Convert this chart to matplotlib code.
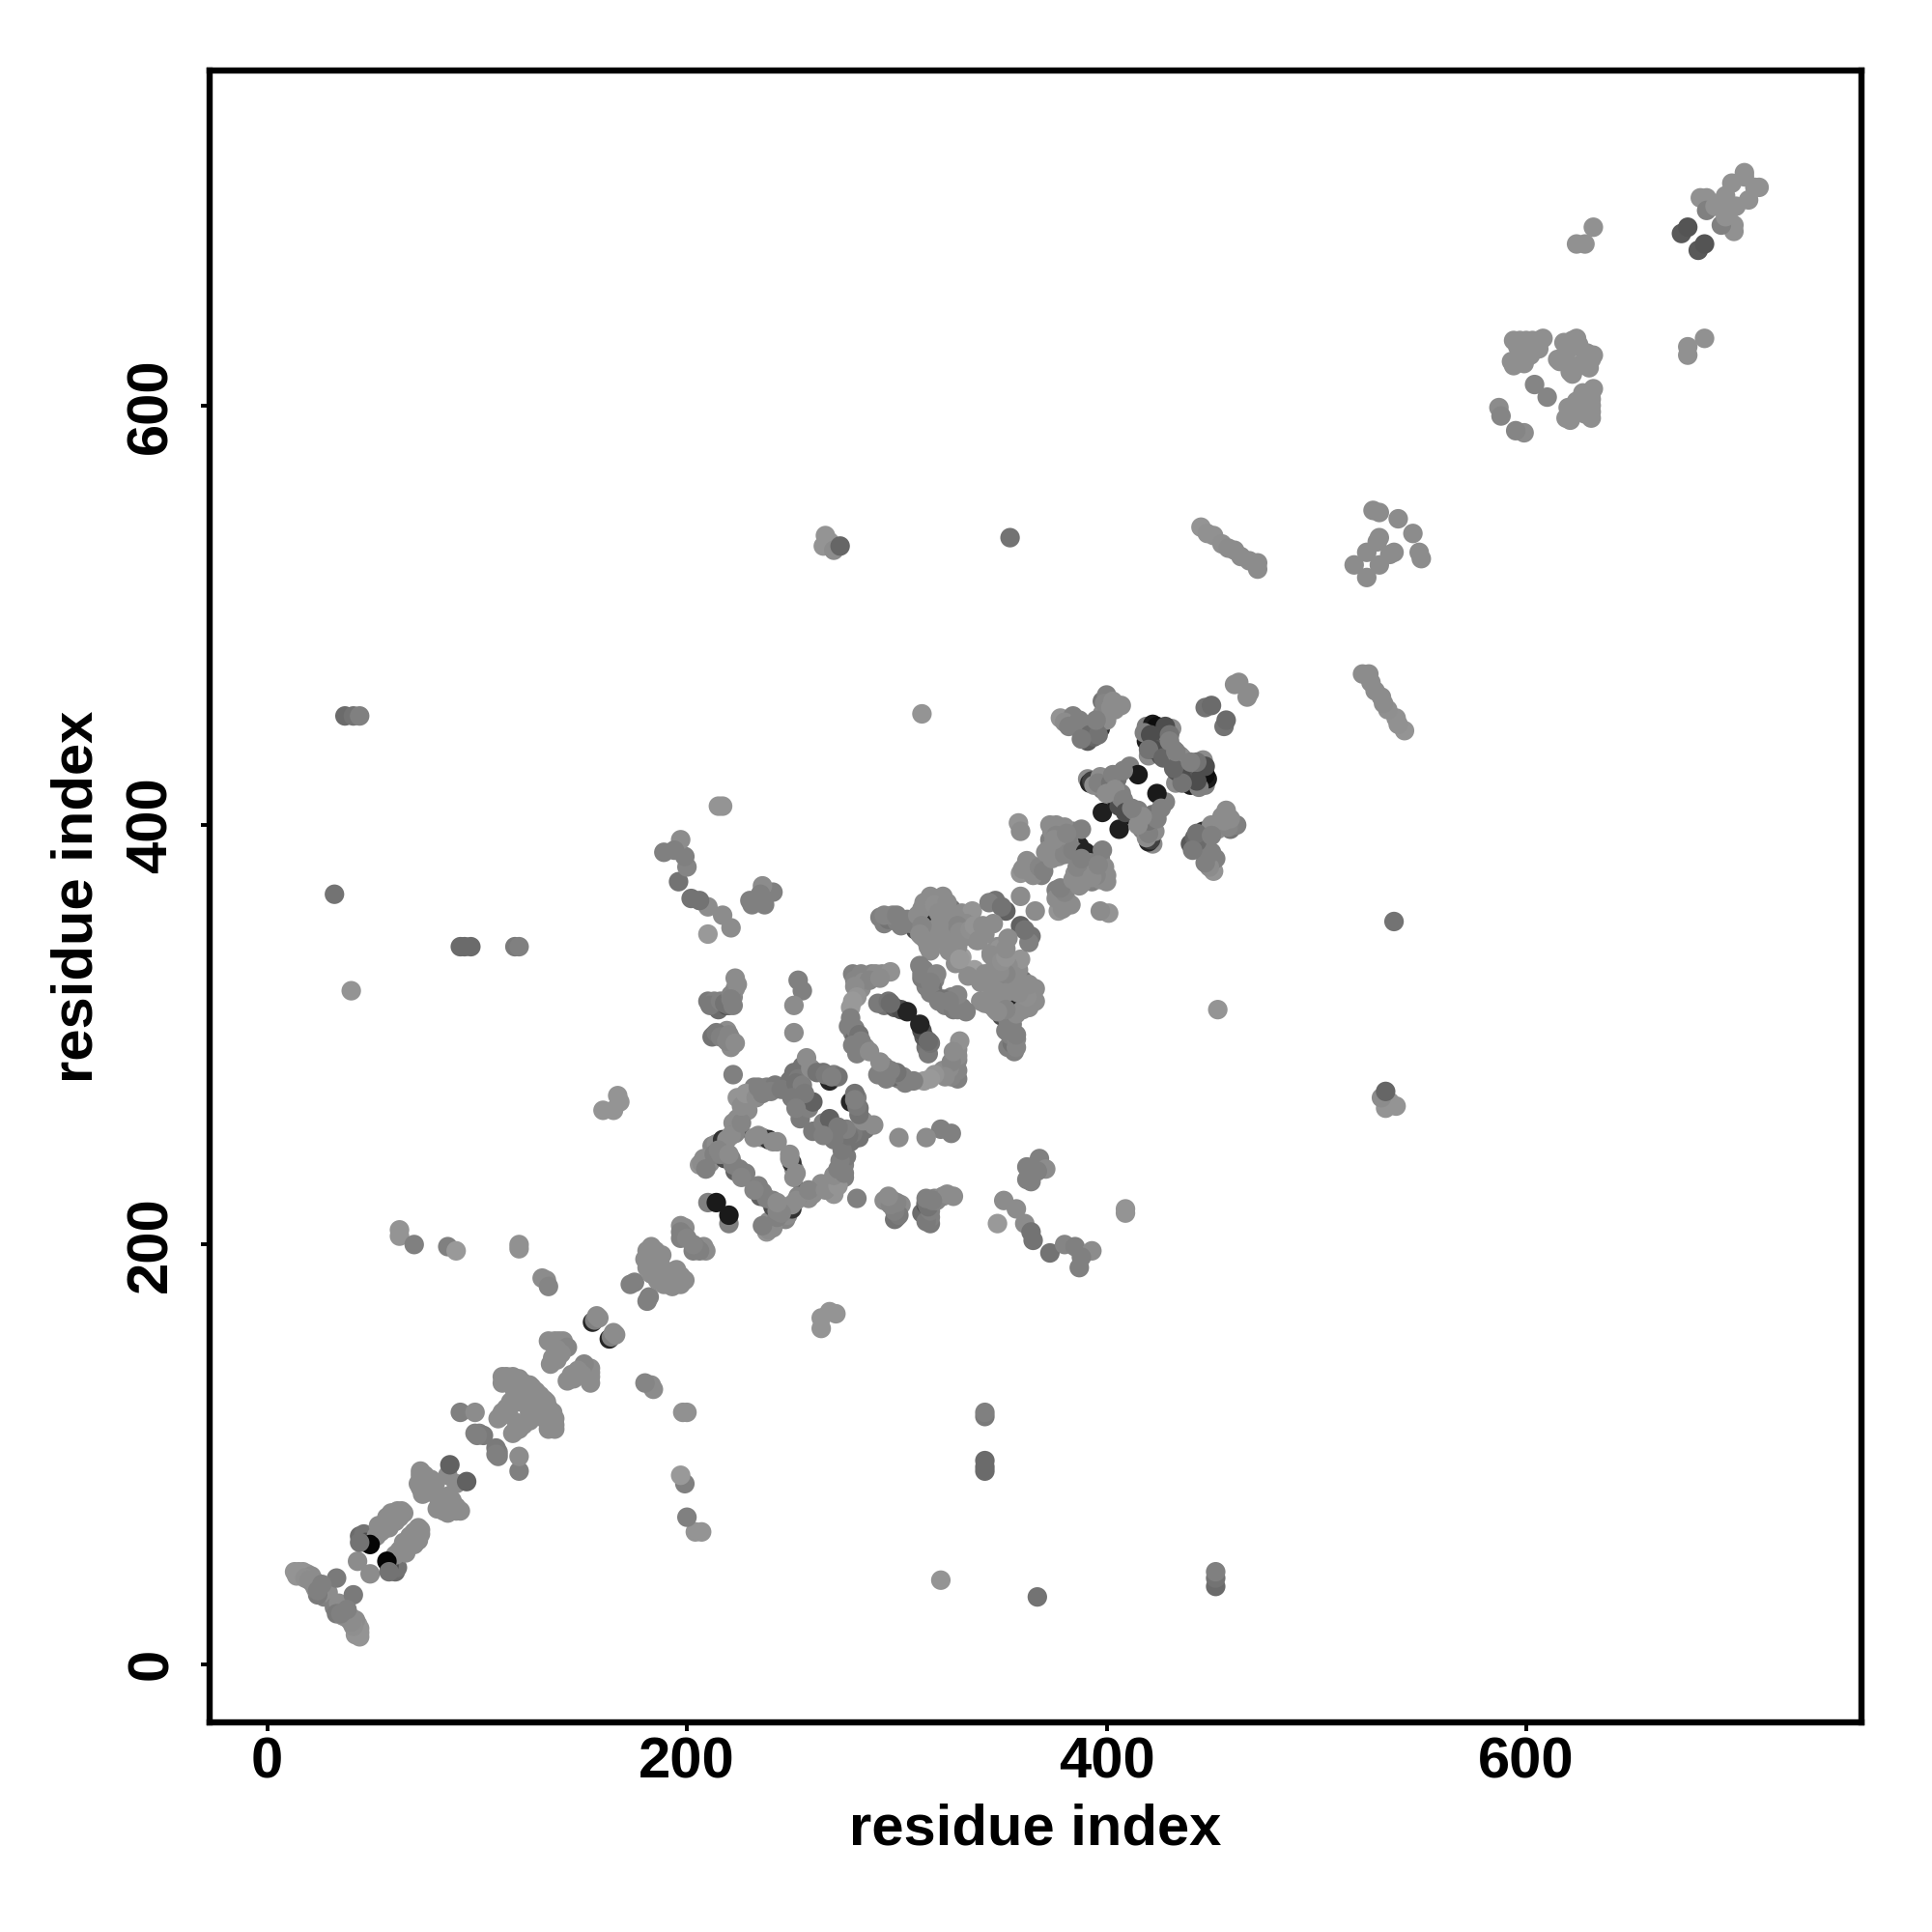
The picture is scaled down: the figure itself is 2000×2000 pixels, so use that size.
import numpy as np
import matplotlib
matplotlib.use("Agg")
import matplotlib.pyplot as plt

# contact pairs (i < j), the map is symmetric so each one is drawn twice
res_i = [
    13, 15, 17, 19, 21, 22, 23, 24, 25, 25, 26, 27, 29, 33, 24,
    43, 44, 45, 46, 47, 47, 52, 54, 56, 58, 60, 62, 64, 65, 60, 58, 49,
    73, 73, 74, 72, 75, 77, 74, 76, 79, 86, 87,
    92, 99, 99, 101, 103, 100,
    112, 114, 117, 120, 122, 125, 118, 120, 116, 114, 111, 113, 110, 126, 128,
    134, 137, 139, 141, 143, 138, 140, 136, 135, 138,
    63, 63, 70, 86, 90, 120, 120, 131, 133, 134,
    155, 156, 157, 158,
    173, 175, 181, 183, 185, 180, 183, 185, 188, 187, 181, 183, 186,
    197, 199, 197, 199, 197, 200,
    210, 214,
    160, 165, 168, 167,
    206, 207, 211, 212, 214, 217, 219, 222, 225, 223, 229, 229, 224, 232, 238, 242, 222,
    249, 250, 252, 253, 254, 255, 257, 258, 260, 265, 268, 270, 272,
    232, 236, 239, 243, 218, 221, 223, 228,
    210, 213, 215, 219, 220, 222, 223, 223, 213, 212, 219, 221, 221,
    253, 255, 251, 251,
    279, 281, 283, 285, 288, 290, 293, 297, 283, 278, 277, 279, 280, 285, 281,
    294, 299, 302, 305,
    313, 318, 314, 312, 316, 317, 312,
    294, 292, 296, 300, 305, 309, 314, 316, 322, 312, 326, 331, 336, 315, 318,
    322, 327, 331, 328, 325, 333, 341, 338, 347, 352, 344, 350, 345, 348, 336,
    359, 358, 359,
    361, 359, 364, 366, 369, 373, 376, 378, 384, 386, 387, 373, 377, 372, 376, 379, 382,
    378, 384, 385, 391, 394, 397, 400, 394, 398, 400, 400, 407,
    391, 392, 393, 397, 398, 402, 405, 407, 411, 415, 405, 398, 406, 407,
    419, 422, 424, 419, 420, 426, 425, 431, 428, 429, 432,
    447, 450, 461, 463,
    445, 448, 451, 455, 458, 461, 464, 468, 472, 472,
    527, 530, 539, 529, 530, 524, 518,
    587, 588, 604,
    594, 597, 600, 603, 606, 608, 593, 594, 599, 600, 604, 596,
    624, 622, 615, 616, 619, 622,
    632, 624, 628, 674, 677,
    683, 686, 686, 704, 698, 695, 693, 690, 704,
    37, 41, 44, 32, 40, 92, 94, 97, 118, 120,
    312, 354,
    266, 265, 268, 270, 273,
    215, 217,
    231, 237, 241, 236, 230, 235,
    221, 210, 217, 210, 206, 202,
    196, 200, 199, 197, 189, 194,
]
res_j = [
    44, 44, 44, 43, 42, 40, 39, 37, 36, 34, 33, 32, 34, 41, 33,
    49, 61, 60, 62, 60, 58, 61, 63, 66, 68, 72, 73, 73, 72, 70, 65, 57,
    92, 90, 88, 86, 85, 86, 81, 83, 84, 90, 95,
    120, 120, 110, 110, 109, 109,
    137, 137, 137, 136, 134, 133, 130, 128, 125, 122, 118, 119, 117, 132, 130,
    154, 154, 154, 154, 151, 150, 148, 146, 143, 145,
    207, 204, 200, 199, 197, 200, 198, 184, 183, 180,
    163, 164, 166, 165,
    181, 182, 197, 199, 197, 193, 192, 190, 195, 192, 189, 186, 187,
    209, 208, 206, 204, 203, 203,
    220, 220,
    264, 264, 268, 271,
    238, 239, 239, 247, 248, 250, 250, 258, 255, 253, 264, 270, 270, 275, 275, 276, 281,
    278, 279, 273, 268, 260, 285, 289, 265, 268, 282, 278, 281, 280,
    251, 251, 250, 249, 241, 241, 235, 234,
    316, 316, 312, 314, 314, 318, 322, 327, 300, 299, 302, 298, 294,
    326, 321, 314, 301,
    329, 328, 329, 328, 329, 329, 329, 330, 322, 313, 304, 301, 298, 294, 291,
    314, 313, 312, 311,
    331, 326, 323, 327, 328, 322, 329,
    353, 356, 355, 354, 355, 350, 353, 366, 366, 360, 360, 358, 359, 342, 348,
    349, 344, 337, 334, 353, 353, 349, 345, 364, 359, 363, 361, 339, 342, 330,
    366, 401, 397,
    380, 377, 381, 379, 376, 400, 400, 397, 397, 396, 390, 393, 385, 388, 390, 393, 392,
    451, 452, 448, 440, 442, 446, 450, 447, 459, 462, 456, 457,
    422, 420, 421, 423, 417, 414, 422, 415, 428, 424, 411, 406, 409, 413,
    447, 448, 447, 440, 433, 433, 440, 446, 442, 437, 436,
    456, 457, 467, 468,
    542, 539, 538, 534, 532, 531, 528, 526, 525, 522,
    550, 549, 546, 535, 537, 530, 524,
    599, 595, 610,
    631, 631, 631, 631, 631, 632, 621, 619, 620, 626, 627, 628,
    632, 631, 622, 621, 625, 628,
    685, 677, 677, 682, 685,
    699, 699, 693, 711, 706, 700, 697, 695, 709,
    452, 452, 452, 367, 321, 342, 342, 342, 342, 342,
    453, 537,
    538, 533, 535, 531, 533,
    409, 409,
    362, 362, 368, 371, 364, 367,
    351, 348, 357, 361, 364, 365,
    373, 380, 385, 393, 387, 388,
]
shade = [
    .58, .58, .58, .58, .55, .55, .55, .55, .55, .55, .5, .5, .55, .48, .48,
    .55, .42, .42, .45, .45, .3, .55, .55, .55, .55, .55, .55, .55, .55, .55, .55, .02,
    .55, .55, .55, .55, .55, .52, .55, .55, .55, .55, .38,
    .5, .55, .5, .5, .48, .5,
    .55, .55, .55, .55, .55, .55, .55, .55, .55, .55, .55, .55, .55, .55, .55,
    .55, .55, .55, .55, .52, .55, .55, .55, .55, .55,
    .58, .58, .5, .5, .6, .57, .57, .55, .55, .52,
    .15, .5, .55, .55,
    .5, .5, .55, .55, .55, .55, .55, .55, .55, .55, .55, .55, .55,
    .55, .55, .5, .5, .5, .52,
    .5, .1,
    .58, .58, .58, .58,
    .58, .55, .55, .52, .55, .2, .55, .55, .3, .52, .55, .55, .58, .5, .5, .48, .5,
    .45, .45, .48, .5, .48, .45, .55, .5, .38, .45, .15, .5, .45,
    .55, .55, .2, .55, .3, .5, .38, .5,
    .48, .5, .42, .3, .42, .52, .55, .55, .45, .45, .55, .55, .55,
    .5, .5, .55, .55,
    .5, .5, .52, .52, .52, .55, .55, .57, .55, .6, .5, .5, .42, .55, .5,
    .45, .35, .3, .14,
    .5, .5, .5, .48, .52, .45, .5,
    .5, .5, .45, .5, .5, .3, .14, .55, .55, .55, .45, .55, .58, .55, .55,
    .5, .55, .62, .55, .55, .55, .58, .55, .45, .38, .5, .45, .55, .55, .6,
    .55, .58, .55,
    .55, .58, .55, .55, .5, .55, .55, .55, .5, .5, .14, .5, .55, .55, .55, .55, .55,
    .58, .5, .55, .35, .4, .2, .55, .45, .45, .5, .5, .55,
    .55, .15, .25, .55, .5, .55, .45, .5, .5, .1, .1, .12, .3, .5,
    .5, .1, .05, .12, .55, .3, .5, .55, .55, .3, .55,
    .45, .42, .55, .55,
    .58, .57, .57, .56, .55, .55, .55, .55, .55, .55,
    .55, .55, .55, .55, .55, .55, .55,
    .55, .52, .52,
    .56, .56, .56, .56, .56, .56, .56, .56, .56, .56, .56, .56,
    .56, .56, .56, .56, .56, .56,
    .57, .57, .57, .35, .33,
    .57, .57, .5, .57, .57, .57, .57, .57, .57,
    .42, .45, .5, .45, .58, .42, .42, .42, .48, .5,
    .58, .45,
    .58, .58, .58, .55, .4,
    .58, .58,
    .5, .5, .5, .55, .5, .5,
    .55, .6, .55, .55, .45, .45,
    .45, .52, .5, .55, .5, .5,
]

# contacts inside the dense patches, drawn over the ones above
extra_i = [
    14, 18, 20, 22, 23, 24, 26,
    44, 53, 55, 57, 59, 61, 63,
    75, 76, 78, 75, 78, 73, 80,
    112, 115, 118, 122, 118, 115, 112, 120, 123,
    208, 209, 213, 215, 216, 221, 224, 226, 226, 228, 233, 234, 236, 240, 245,
    251, 253, 252, 255, 256, 250, 252, 259, 262, 266, 269,
    234, 241, 225, 222, 220, 226,
    280, 284, 287, 292, 280, 281, 279, 278, 280, 282, 283, 279, 287,
    291, 296, 297,
    211, 216, 218, 222, 221, 224, 221, 214, 216, 219, 220, 223,
    294, 298, 302, 307, 310, 313, 318, 320, 324, 328, 329, 330, 318, 320, 323, 325,
    333, 335, 337, 329, 341, 346,
    300, 312, 314, 316, 312, 311,
    311, 314, 319, 316, 316,
    360, 362, 365, 368, 370, 374, 380, 376, 382, 388, 371, 374, 379, 380, 384, 375, 381,
    380, 382, 387, 389, 392, 396, 398, 399, 402, 403, 404, 395, 388,
    394, 396, 400, 402, 403, 408, 404, 400, 408,
    418, 421, 428, 430, 425, 422, 420, 433, 427, 435, 430,
    598, 602, 596, 598, 606,
    620, 618, 625, 618,
]
extra_j = [
    42, 41, 40, 38, 36, 35, 38,
    58, 66, 64, 70, 72, 68, 70,
    90, 88, 88, 83, 82, 84, 86,
    134, 134, 133, 131, 126, 119, 120, 125, 128,
    241, 236, 243, 245, 243, 252, 260, 258, 266, 272, 270, 275, 272, 273, 274,
    282, 279, 277, 276, 272, 270, 265, 284, 282, 281, 280,
    252, 249, 236, 238, 243, 232,
    326, 325, 326, 327, 323, 318, 316, 308, 303, 300, 297, 295, 292,
    315, 316, 315,
    314, 316, 315, 314, 319, 324, 317, 301, 299, 297, 300, 296,
    357, 357, 352, 353, 357, 363, 362, 358, 363, 356, 352, 349, 345, 352, 345, 340,
    347, 350, 352, 342, 352, 353,
    357, 347, 345, 340, 352, 348,
    333, 329, 329, 320, 325,
    379, 383, 376, 380, 378, 397, 399, 395, 395, 398, 387, 384, 389, 386, 388, 393, 396,
    449, 447, 450, 445, 443, 443, 453, 458, 456, 459, 455, 450, 441,
    419, 420, 418, 420, 424, 426, 417, 415, 412,
    444, 443, 447, 443, 436, 436, 436, 434, 432, 433, 440,
    626, 624, 622, 628, 627,
    628, 630, 629, 622,
]
extra_shade = [
    .58, .56, .55, .55, .55, .5, .5,
    .45, .55, .55, .55, .55, .55, .55,
    .55, .55, .55, .55, .55, .55, .55,
    .55, .55, .55, .55, .55, .55, .55, .55, .55,
    .55, .5, .5, .52, .52, .55, .55, .52, .55, .58, .55, .5, .5, .5, .48,
    .45, .48, .45, .5, .48, .48, .5, .55, .45, .48, .5,
    .55, .55, .5, .5, .55, .52,
    .52, .55, .52, .55, .55, .58, .6, .5, .5, .45, .5, .5, .55,
    .48, .45, .42,
    .48, .5, .45, .5, .52, .55, .5, .48, .5, .52, .52, .55,
    .52, .52, .5, .5, .55, .55, .56, .55, .55, .55, .52, .55, .55, .55, .55, .55,
    .55, .56, .58, .55, .55, .55,
    .5, .55, .55, .55, .52, .55,
    .5, .5, .52, .5, .5,
    .55, .55, .55, .52, .5, .55, .55, .52, .5, .5, .55, .55, .55, .52, .5, .55, .52,
    .55, .5, .5, .5, .42, .45, .55, .52, .55, .55, .55, .5, .48,
    .55, .5, .5, .45, .5, .5, .55, .55, .5,
    .5, .3, .3, .45, .35, .3, .45, .55, .4, .5, .5,
    .56, .56, .56, .56, .56,
    .56, .56, .56, .56,
]

axis_ticks = [0, 200, 400, 600]
axis_label = "residue index"

plt.rcParams['font.family'] = ['Liberation Sans', 'DejaVu Sans']
plt.rcParams['font.weight'] = 'bold'

fig = plt.figure(figsize=(10, 10), dpi=200)
ax = fig.add_axes([217 / 2000, 217 / 2000, 1710 / 2000, 1710 / 2000])

x = np.array(res_i + extra_i + res_j + extra_j, dtype=float)
y = np.array(res_j + extra_j + res_i + extra_i, dtype=float)
g = np.array(shade + extra_shade + shade + extra_shade)
ax.scatter(x, y, s=53, c=[str(v) for v in g], linewidths=0, zorder=2)

ax.set_xlim(-27.5, 759.8)
ax.set_ylim(-27.8, 759.7)
ax.set_xticks(axis_ticks)
ax.set_yticks(axis_ticks)
ax.tick_params(axis='x', length=3.2, width=1.4, labelsize=21.5, pad=2)
ax.tick_params(axis='y', length=3.2, width=1.4, labelsize=21.5, pad=8.4)
for lab in ax.get_yticklabels():
    lab.set_rotation(90)
    lab.set_va('center')
for s in ax.spines.values():
    s.set_linewidth(2.3)

ax.set_xlabel(axis_label, fontsize=21.5, fontweight='bold')
ax.set_ylabel(axis_label, fontsize=21.5, fontweight='bold')
ax.xaxis.set_label_coords(0.5, -0.049)
ax.yaxis.set_label_coords(-0.064, 0.5)

fig.savefig("out.png", dpi=200, facecolor='white')
